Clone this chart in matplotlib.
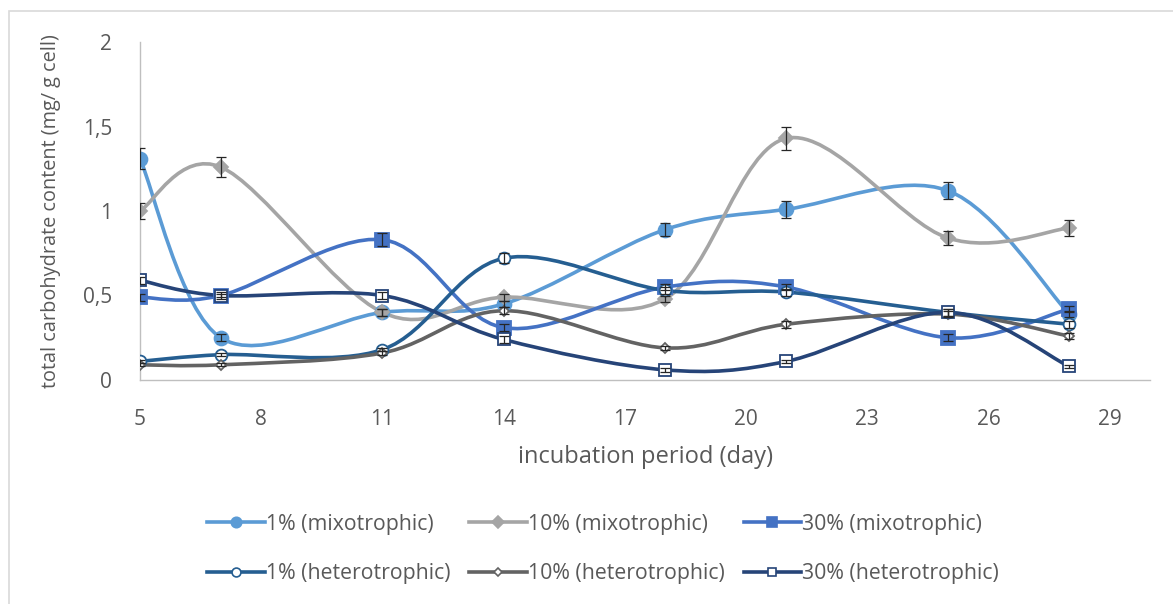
import numpy as np
import matplotlib.pyplot as plt
from matplotlib.path import Path
from matplotlib.patches import PathPatch, Rectangle
from matplotlib.lines import Line2D

plt.rcParams['font.family'] = ['Open Sans', 'DejaVu Sans']

# data
days = [5, 7, 11, 14, 18, 21, 25, 28]

mixo_1 = [1.31, 0.25, 0.40, 0.45, 0.89, 1.01, 1.12, 0.39]
mixo_10 = [1.00, 1.26, 0.40, 0.49, 0.48, 1.43, 0.84, 0.90]
mixo_30 = [0.49, 0.50, 0.83, 0.31, 0.55, 0.55, 0.25, 0.42]
hetero_1 = [0.11, 0.15, 0.18, 0.72, 0.53, 0.52, 0.40, 0.33]
hetero_10 = [0.09, 0.09, 0.16, 0.41, 0.19, 0.33, 0.39, 0.26]
hetero_30 = [0.59, 0.50, 0.50, 0.24, 0.06, 0.11, 0.40, 0.08]

err_mixo_1 = [0.06, 0.02, 0.02, 0.02, 0.04, 0.05, 0.05, 0.02]
err_mixo_10 = [0.05, 0.06, 0.02, 0.02, 0.02, 0.07, 0.04, 0.045]
err_mixo_30 = [0.02, 0.02, 0.04, 0.02, 0.02, 0.02, 0.02, 0.02]
err_hetero_1 = [0.01, 0.01, 0.01, 0.03, 0.02, 0.02, 0.02, 0.02]
err_hetero_10 = [0.01, 0.01, 0.01, 0.02, 0.01, 0.02, 0.02, 0.02]
err_hetero_30 = [0.02, 0.01, 0.02, 0.02, 0.01, 0.01, 0.02, 0.01]

labels = ['1% (mixotrophic)', '10% (mixotrophic)', '30% (mixotrophic)',
          '1% (heterotrophic)', '10% (heterotrophic)', '30% (heterotrophic)']
series = [mixo_1, mixo_10, mixo_30, hetero_1, hetero_10, hetero_30]
errors = [err_mixo_1, err_mixo_10, err_mixo_30, err_hetero_1, err_hetero_10, err_hetero_30]
colors = ['#5B9BD5', '#A5A5A5', '#4472C4', '#255E91', '#636363', '#264478']
markers = ['o', 'D', 's', 'o', 'D', 's']
msizes = [10, 7.5, 9.5, 8.5, 5.5, 8.5]
faces = ['#5B9BD5', '#A5A5A5', '#4472C4', 'white', 'white', 'white']


def smooth_path(x, y):
    # excel-like smoothed line: catmull-rom as cubic bezier
    pts = np.column_stack([x, y]).astype(float)
    verts = [pts[0]]
    codes = [Path.MOVETO]
    n = len(pts)
    for i in range(n - 1):
        p0 = pts[i - 1] if i > 0 else pts[i]
        p1 = pts[i]
        p2 = pts[i + 1]
        p3 = pts[i + 2] if i + 2 < n else pts[i + 1]
        c1 = p1 + (p2 - p0) / 6
        c2 = p2 - (p3 - p1) / 6
        verts += [c1, c2, p2]
        codes += [Path.CURVE4] * 3
    return Path(verts, codes)


fig = plt.figure(figsize=(11.73, 6.04), dpi=100)
ax = fig.add_axes([140 / 1173, 1 - 380 / 604, 1010 / 1173, 338 / 604])

# chart frame
fig.patches.append(Rectangle((9 / 1173, -0.1), 1.2, 1 - 11 / 604 + 0.1,
                             transform=fig.transFigure, fill=False,
                             edgecolor='#D9D9D9', lw=1.2))

handles = []
for vals, err, c, m, ms, fc, lab in zip(series, errors, colors, markers, msizes, faces, labels):
    ax.add_patch(PathPatch(smooth_path(days, vals), fill=False, edgecolor=c,
                           lw=2.6, capstyle='round', zorder=2))
    ax.errorbar(days, vals, yerr=err, fmt='none', ecolor='#262626',
                elinewidth=0.9, capsize=3.5, capthick=0.9, zorder=4)
    ax.plot(days, vals, ls='none', marker=m, ms=ms, color=c,
            markerfacecolor=fc, markeredgewidth=1.3, zorder=3)
    handles.append(Line2D([], [], color=c, lw=2.6, marker=m, ms=ms * 0.75,
                          markerfacecolor=fc, markeredgewidth=1.2))

ax.set_xlim(5, 30)
ax.set_ylim(0, 2)
ax.set_xticks([5, 8, 11, 14, 17, 20, 23, 26, 29])
ax.set_yticks([0, 0.5, 1, 1.5, 2])
ax.set_yticklabels(['0', '0,5', '1', '1,5', '2'])

for s in ['top', 'right']:
    ax.spines[s].set_visible(False)
for s in ['left', 'bottom']:
    ax.spines[s].set_color('#BFBFBF')
    ax.spines[s].set_linewidth(1.0)

ax.tick_params(length=0, labelsize=15, colors='#595959')
ax.tick_params(axis='x', pad=21)
ax.tick_params(axis='y', pad=20)

ax.set_xlabel('incubation period (day)', fontsize=17, color='#595959', labelpad=11)
ax.set_ylabel('total carbohydrate content (mg/ g cell)', fontsize=14.3,
              color='#595959', labelpad=16)

order = [0, 3, 1, 4, 2, 5]
fig.legend([handles[i] for i in order], [labels[i] for i in order],
           ncol=3, loc='center', bbox_to_anchor=(603 / 1173, 1 - 549 / 604),
           frameon=False, fontsize=15.3, labelcolor='#595959',
           handlelength=2.7, handletextpad=0.05, columnspacing=0.9,
           labelspacing=1.35)

fig.savefig('out.png', dpi=100)
